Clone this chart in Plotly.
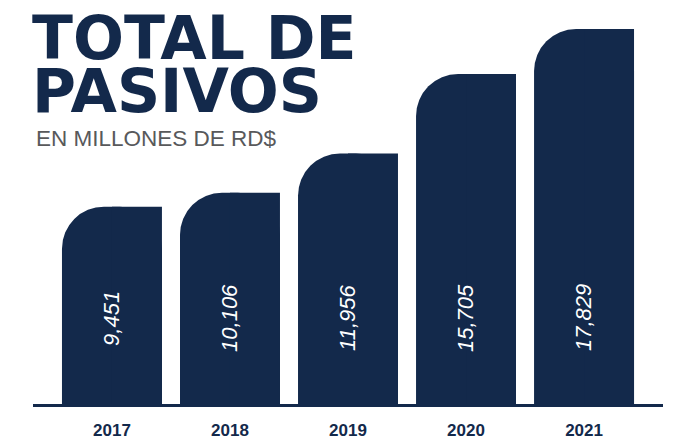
import plotly.graph_objects as go

years = ["2017", "2018", "2019", "2020", "2021"]
values = [9451, 10106, 11956, 15705, 17829]
labels = ["9,451", "10,106", "11,956", "15,705", "17,829"]

NAVY = "#13294b"
W, H = 676, 441
ML, MR, MT, MB = 33, 13, 20, 34
plot_h = H - MT - MB
px_per_unit = 0.0212
ymax = plot_h / px_per_unit
bar_w = 0.847


def py(pix):
    """pixel y (from top) -> paper y"""
    return (H - MB - pix) / plot_h


def px(pix):
    return (pix - ML) / (W - ML - MR)


fig = go.Figure()
fig.add_trace(go.Bar(x=years, y=values, width=bar_w,
                     marker=dict(color=NAVY, line=dict(width=0), cornerradius=42),
                     hoverinfo="skip"))
fig.add_trace(go.Bar(x=years, y=values, width=bar_w / 2, offset=0,
                     marker=dict(color=NAVY, line=dict(width=0)),
                     hoverinfo="skip"))

for i, lab in enumerate(labels):
    fig.add_annotation(x=i, y=4200, xref="x", yref="y", text=lab, textangle=-90,
                       showarrow=False,
                       font=dict(family="Liberation Sans", size=22, color="white",
                                 style="italic"),
                       xanchor="center", yanchor="middle")

fig.add_shape(type="line", xref="paper", yref="y", x0=0, x1=1, y0=0, y1=0,
              line=dict(color=NAVY, width=6))

fig.add_annotation(xref="paper", yref="paper", x=px(30), y=py(38), text="TOTAL DE",
                   showarrow=False, xanchor="left", yanchor="middle",
                   font=dict(family="DejaVu Sans", size=60, color=NAVY, weight="bold"))
fig.add_annotation(xref="paper", yref="paper", x=px(30), y=py(91), text="PASIVOS",
                   showarrow=False, xanchor="left", yanchor="middle",
                   font=dict(family="DejaVu Sans", size=60, color=NAVY, weight="bold"))
fig.add_annotation(xref="paper", yref="paper", x=px(34), y=py(138), text="EN MILLONES DE RD$",
                   showarrow=False, xanchor="left", yanchor="middle",
                   font=dict(family="Liberation Sans", size=22.5, color="#58595b"))

fig.update_layout(
    width=W, height=H, margin=dict(l=ML, r=MR, t=MT, b=MB, autoexpand=False),
    paper_bgcolor="white", plot_bgcolor="white",
    barmode="overlay", showlegend=False,
    xaxis=dict(type="category", range=[-0.669, 4.669], showgrid=False, zeroline=False,
               showline=False, ticks="", ticklabelstandoff=11, automargin=False,
               tickfont=dict(family="Liberation Sans", size=17, color=NAVY, weight="bold")),
    yaxis=dict(range=[0, ymax], visible=False, automargin=False),
)

fig.write_html("out.html", config={"displayModeBar": False},
               post_script="document.body.style.margin='0';document.body.style.padding='0';")
